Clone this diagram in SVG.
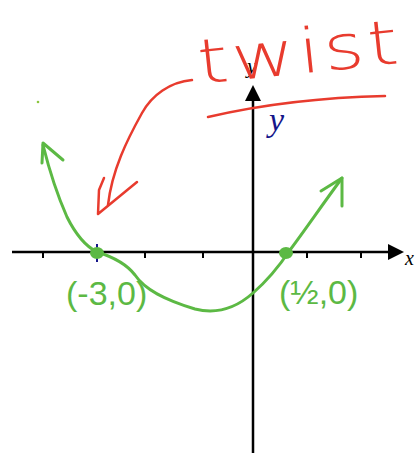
<svg xmlns="http://www.w3.org/2000/svg" width="420" height="454" viewBox="0 0 420 454">
<style>
.axis{stroke:#000;stroke-width:2.5;fill:none}
.tick{stroke:#000;stroke-width:2;fill:none}
.green{stroke:#5cb944;stroke-width:3;fill:none;stroke-linecap:round;stroke-linejoin:round}
.red{stroke:#e83b2e;stroke-width:2.5;fill:none;stroke-linecap:round;stroke-linejoin:round}
.lab{font-family:"Liberation Serif",serif;font-style:italic;fill:#000}
.glab{font-family:"Liberation Sans",sans-serif;fill:#5cb944}
</style>
<rect width="420" height="454" fill="#fff"/>
<g id="axes">
<line class="axis" x1="12" y1="252" x2="390" y2="252"/>
<polygon points="388,244 404,252 388,260" fill="#000"/>
<line class="axis" x1="253" y1="98" x2="253" y2="453"/>
<polygon points="245,101 253,85 261,101" fill="#000"/>
<path class="tick" d="M43,252V258M145,252V258M203,252V258M307,252V258M361,252V258"/>
<line x1="97" y1="244" x2="97" y2="262" stroke="#16168a" stroke-width="2"/>
<text class="lab" x="405" y="265" font-size="20">x</text>
<text class="lab" x="247" y="73" font-size="22">y</text>
<text x="269" y="131" font-family="Liberation Serif,serif" font-style="italic" font-size="34" fill="#16168a">y</text>
</g>
<g id="curve">
<path class="green" d="M43,145 C48,165 55,190 67,217 C75,233 85,246 97,252 C110,256 125,262 135,275 C145,290 165,300 195,309 C215,314 235,309 253,293 C268,280 280,265 290,250 C305,230 320,208 342,178"/>
<path class="green" d="M63,160 L43,143 L42,163"/>
<path class="green" d="M321,191 L342,178 L342,206"/>
<ellipse cx="97" cy="253" rx="7" ry="6" fill="#5cb944"/>
<ellipse cx="286" cy="253" rx="7" ry="6" fill="#5cb944"/>
<text class="glab" x="66" y="305" font-size="34">(-3,0)</text>
<text class="glab" x="279" y="304" font-size="34">(½,0)</text>
<circle cx="38" cy="102" r="1.3" fill="#8cc63f"/>
</g>
<g id="annotation">
<text x="0" y="0" transform="rotate(-6 200 84) translate(200 84) scale(1.25 1)" font-family="DejaVu Sans,sans-serif" font-weight="200" font-size="62" letter-spacing="3" fill="#e83b2e">twist</text>
<path class="red" d="M208,117 Q290,98 385,96"/>
<path class="red" d="M192,80 C170,82 152,95 142,113 C127,140 112,170 108,205"/>
<path class="red" d="M137,182 L98,214 L99,190 L104,178"/>
</g>
</svg>
